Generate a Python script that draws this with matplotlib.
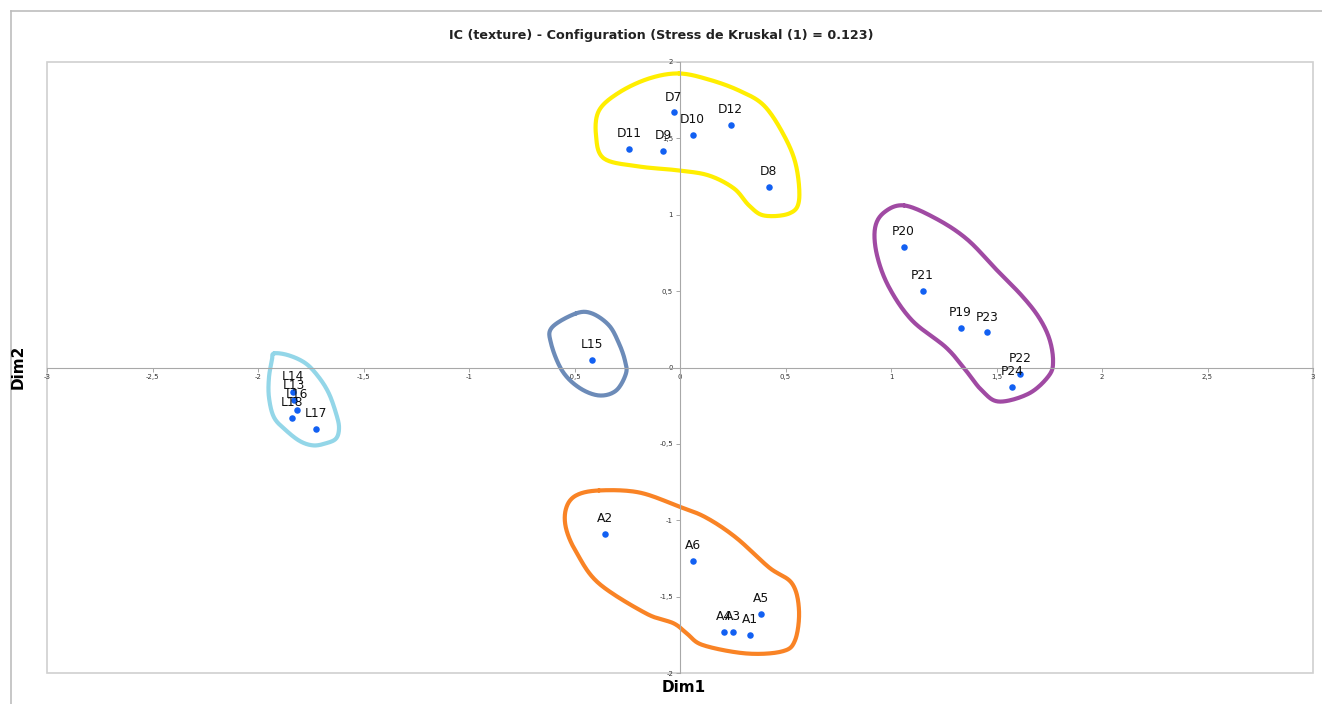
import matplotlib
matplotlib.use("Agg")
import matplotlib.pyplot as plt
import numpy as np
from matplotlib.ticker import FuncFormatter, MultipleLocator
from matplotlib.lines import Line2D
from matplotlib.patches import Rectangle

# Coordonnees des produits (Dim1, Dim2)
labels = ["D7", "D10", "D12", "D11", "D9", "D8",
          "P20", "P21", "P19", "P23", "P22", "P24",
          "L15", "L14", "L13", "L16", "L18", "L17",
          "A2", "A6", "A5", "A4", "A3", "A1"]
dim1 = [-0.03, 0.06, 0.24, -0.24, -0.08, 0.42,
        1.06, 1.15, 1.33, 1.455, 1.61, 1.575,
        -0.415, -1.833, -1.828, -1.814, -1.840, -1.725,
        -0.355, 0.06, 0.385, 0.21, 0.25, 0.33]
dim2 = [1.67, 1.525, 1.59, 1.43, 1.42, 1.18,
        0.79, 0.50, 0.26, 0.23, -0.04, -0.125,
        0.05, -0.162, -0.216, -0.275, -0.329, -0.404,
        -1.09, -1.265, -1.615, -1.73, -1.73, -1.748]

# contours dessines a la main autour des groupes
groupe_D = [(-0.005, 1.925), (0.137, 1.885), (0.280, 1.813), (0.398, 1.715), (0.493, 1.519),
            (0.550, 1.322), (0.564, 1.093), (0.517, 1.008), (0.398, 0.995), (0.327, 1.061),
            (0.256, 1.172), (0.137, 1.257), (-0.005, 1.290), (-0.194, 1.316), (-0.360, 1.368),
            (-0.398, 1.519), (-0.384, 1.682), (-0.289, 1.800), (-0.147, 1.892)]
groupe_P = [(1.062, 1.061), (1.213, 0.975), (1.36, 0.84), (1.50, 0.64), (1.62, 0.47),
            (1.70, 0.33), (1.75, 0.19), (1.768, 0.046), (1.749, -0.052), (1.654, -0.170),
            (1.512, -0.223), (1.431, -0.151), (1.355, -0.020), (1.261, 0.131), (1.100, 0.308),
            (0.991, 0.524), (0.934, 0.733), (0.924, 0.910), (0.967, 1.015)]
groupe_A = [(-0.384, -0.805), (-0.194, -0.818), (-0.005, -0.910), (0.123, -0.982), (0.265, -1.113),
            (0.422, -1.309), (0.531, -1.414), (0.564, -1.591), (0.545, -1.787), (0.483, -1.859),
            (0.313, -1.872), (0.110, -1.818), (0.035, -1.745), (-0.030, -1.675), (-0.161, -1.610),
            (-0.384, -1.414), (-0.488, -1.218), (-0.540, -1.054), (-0.540, -0.923), (-0.493, -0.838)]
groupe_L15 = [(-0.493, 0.354), (-0.417, 0.354), (-0.336, 0.275), (-0.289, 0.157), (-0.261, 0.046),
              (-0.256, -0.039), (-0.303, -0.151), (-0.384, -0.183), (-0.479, -0.131),
              (-0.559, -0.020), (-0.611, 0.157), (-0.607, 0.262)]
groupe_L = [(-1.924, 0.092), (-1.853, 0.079), (-1.773, 0.026), (-1.711, -0.065), (-1.664, -0.170),
            (-1.630, -0.301), (-1.616, -0.393), (-1.630, -0.465), (-1.680, -0.497), (-1.738, -0.510),
            (-1.800, -0.483), (-1.867, -0.412), (-1.924, -0.327), (-1.948, -0.196), (-1.948, -0.065),
            (-1.934, 0.046)]
contours = [(groupe_D, "#FFEE00"), (groupe_P, "#A04AA3"), (groupe_A, "#F98325"),
            (groupe_L15, "#6C8BB8"), (groupe_L, "#93D6E8")]


def boucle(pts, n=20):
    # spline de Catmull-Rom fermee
    pts = np.array(pts)
    N = len(pts)
    t = np.linspace(0, 1, n, endpoint=False)[:, None]
    seg = []
    for i in range(N):
        p0, p1, p2, p3 = pts[i - 1], pts[i], pts[(i + 1) % N], pts[(i + 2) % N]
        seg.append(0.5 * (2 * p1 + (-p0 + p2) * t + (2 * p0 - 5 * p1 + 4 * p2 - p3) * t ** 2
                          + (-p0 + 3 * p1 - 3 * p2 + p3) * t ** 3))
    out = np.vstack(seg)
    return np.vstack([out, out[:1]])


fig = plt.figure(figsize=(13.22, 7.04), dpi=100)
ax = fig.add_axes([47 / 1322, 31 / 704, 1266 / 1322, 611 / 704])

for pts, col in contours:
    c = boucle(pts)
    ax.plot(c[:, 0], c[:, 1], color=col, lw=3.0, solid_capstyle="round", zorder=2)

ax.scatter(dim1, dim2, s=22, color="#1260F2", zorder=3, linewidths=0)
for lab, x, y in zip(labels, dim1, dim2):
    ax.annotate(lab, (x, y), xytext=(0, 8.5), textcoords="offset points",
                ha="center", va="baseline", fontsize=8.8, color="#111111", zorder=4)

ax.set_xlim(-3, 3)
ax.set_ylim(-2, 2)
ax.spines["left"].set_position("zero")
ax.spines["bottom"].set_position("zero")
ax.spines["top"].set_visible(False)
ax.spines["right"].set_visible(False)
for s in ["left", "bottom"]:
    ax.spines[s].set_color("#A8A8A8")
    ax.spines[s].set_linewidth(0.8)
ax.add_patch(Rectangle((0, 0), 1, 1, transform=ax.transAxes, fill=False,
                       edgecolor="#D0D0D0", lw=1.2, clip_on=False, zorder=1))

virgule = FuncFormatter(lambda v, _: ("%g" % v).replace(".", ","))
ax.xaxis.set_major_locator(MultipleLocator(0.5))
ax.yaxis.set_major_locator(MultipleLocator(0.5))
ax.xaxis.set_major_formatter(virgule)
ax.yaxis.set_major_formatter(virgule)
ax.tick_params(axis="both", labelsize=5, colors="#A8A8A8", labelcolor="#333333",
               length=3, width=0.7, pad=2)

fig.text(661 / 1322, 1 - 35 / 704, "IC (texture) - Configuration (Stress de Kruskal (1) = 0.123)",
         ha="center", va="center", fontsize=9.2, fontweight="bold", color="#222222",
         family=["Liberation Sans Narrow", "DejaVu Sans"])
fig.text(684 / 1322, 1 - 688 / 704, "Dim1", ha="center", va="center",
         fontsize=11, fontweight="bold")
fig.text(18 / 1322, 1 - 367 / 704, "Dim2", ha="center", va="center",
         fontsize=11, fontweight="bold", rotation=90)

# cadre exterieur du graphique
fig.add_artist(Line2D([11 / 1322, 1], [1 - 11 / 704, 1 - 11 / 704], color="#BDBDBD", lw=1.2))
fig.add_artist(Line2D([11 / 1322, 11 / 1322], [0, 1 - 11 / 704], color="#BDBDBD", lw=1.2))

fig.savefig("out.png", dpi=100)
